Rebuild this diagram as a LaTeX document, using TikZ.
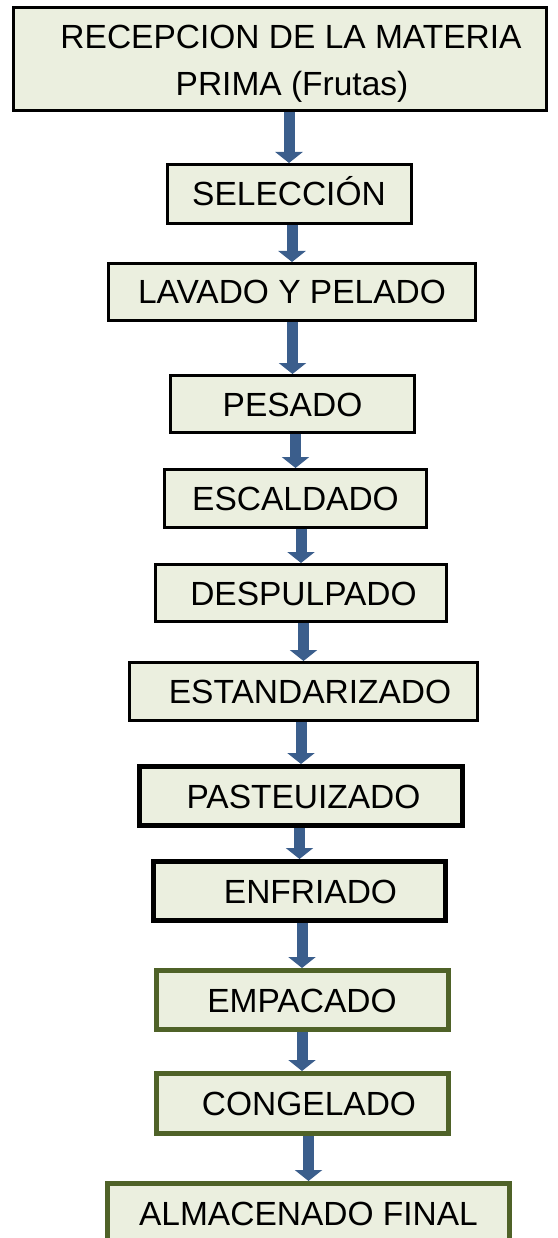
\documentclass[tikz,border=0pt]{standalone}
\usepackage{fontspec}
\setmainfont{Liberation Sans}
\usetikzlibrary{arrows.meta}
\definecolor{boxfill}{RGB}{235,239,223}
\definecolor{flowblue}{RGB}{59,94,140}
\definecolor{olivedark}{RGB}{79,98,40}
\tikzset{
  stage/.style={draw=black, line width=3pt, fill=boxfill, inner sep=0pt,
    text height=24pt, text depth=0pt, font=\fontsize{33.5}{47}\selectfont},
  hot/.style={line width=5pt},
  cold/.style={draw=olivedark, line width=5pt},
  flow/.style={draw=flowblue, line width=11pt, -{Triangle[width=27pt,length=11pt]}}
}
\begin{document}
\begin{tikzpicture}[x=1pt,y=-1pt]
      \useasboundingbox (0,0) rectangle (557,1238);
      \clip (0,0) rectangle (557,1238);
      \draw
        (280,59) node[stage, text height=, text depth=, align=center,
          minimum width=533pt, minimum height=103pt] (rec)
          {\hspace*{22pt}\rule{0pt}{32pt}RECEPCION DE LA MATERIA\\\hspace*{24pt}PRIMA (Frutas)}
        (289,194) node[stage, minimum width=244pt, minimum height=59pt] (sel) {SELECCIÓN}
        (292,292) node[stage, minimum width=367pt, minimum height=57pt] (lav) {LAVADO Y PELADO}
        (292.5,404) node[stage, minimum width=244pt, minimum height=57pt] (pes) {PESADO}
        (295.5,498.5) node[stage, minimum width=262pt, minimum height=58pt] (esc) {ESCALDADO}
        (301,593) node[stage, minimum width=291pt, minimum height=57pt] (des) {\hspace*{5pt}DESPULPADO}
        (303.5,691.5) node[stage, minimum width=348pt, minimum height=58pt] (est) {\hspace*{13pt}ESTANDARIZADO}
        (301,796) node[stage, hot, minimum width=323pt, minimum height=59pt] (pas) {\hspace*{5pt}PASTEUIZADO}
        (299.5,891) node[stage, hot, minimum width=292pt, minimum height=59pt] (enf) {\hspace*{22pt}ENFRIADO}
        (302,1000) node[stage, cold, minimum width=292pt, minimum height=59pt] (emp) {EMPACADO}
        (302,1103.5) node[stage, cold, minimum width=292pt, minimum height=60pt] (con) {\hspace*{14pt}CONGELADO}
        (308.5,1213) node[stage, cold, minimum width=402pt, minimum height=59pt] (alm) {ALMACENADO FINAL};
      \begin{scope}[flow]
        \draw (rec.south -| sel) -- (sel);
        \draw (sel.south -| lav) -- (lav);
        \draw (lav.south -| pes) -- (pes);
        \draw (pes.south -| esc) -- (esc);
        \draw (esc.south -| des) -- (des);
        \draw (des.south -| est) -- (est);
        \draw (est.south -| pas) -- (pas);
        \draw (pas.south -| enf) -- (enf);
        \draw (enf.south -| emp) -- (emp);
        \draw (emp.south -| con) -- (con);
        \draw (con.south -| alm) -- (alm);
      \end{scope}
    \end{tikzpicture}
\end{document}
